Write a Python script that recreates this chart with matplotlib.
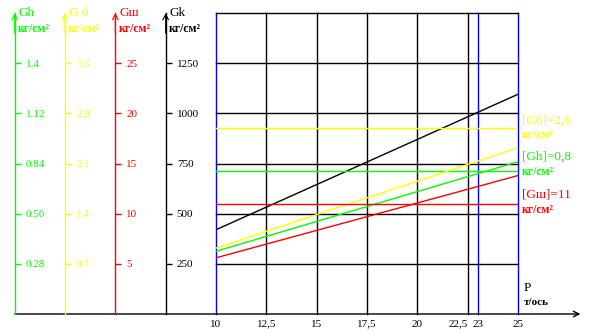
import matplotlib
matplotlib.use("Agg")
import matplotlib.pyplot as plt

plt.rcParams['font.family'] = ['Liberation Serif', 'DejaVu Serif']

# axle load P, t/axle
p_line = [10, 25]
p_ticks = [10, 12.5, 15, 17.5, 20, 22.5, 23, 25]
p_labels = ["10", "12,5", "15", "17,5", "20", "22,5", "23", "25"]
p_blue = [10, 23, 25]

# stresses, kg/cm2 (values at P=10 and P=25)
gk = [420, 1095]
gb = [0.92, 2.32]
gh = [0.35, 0.85]
gsh = [5.6, 13.8]

# allowed values
gb_lim = 2.6
gh_lim = 0.8
gsh_lim = 11

gk_grid = [250, 500, 750, 1000, 1250, 1500]

# left scales: name, colour, factor to Gk scale, ticks, tick labels, position (in P units)
scales = [
    ("Gh", "#00ff00", 1.4 / 1250, [0.28, 0.56, 0.84, 1.12, 1.4],
     ["0.28", "0.56", "0.84", "1.12", "1.4"], 0.0),
    ("G б", "#ffff00", 3.5 / 1250, [0.7, 1.4, 2.1, 2.8, 3.5],
     ["0.7", "1.4", "2.1", "2.8", "3.5"], 2.5),
    ("Gш", "#ff0000", 25 / 1250, [5, 10, 15, 20, 25],
     ["5", "10", "15", "20", "25"], 5.0),
    ("Gk", "black", 1.0, [250, 500, 750, 1000, 1250],
     ["250", "500", "750", "1000", "1250"], 7.5),
]

W, H = 596, 333
fig = plt.figure(figsize=(W / 100, H / 100), dpi=100)
ax = fig.add_axes([216 / W, (H - 314) / H, 302 / W, 301 / H])
ax.set_xlim(10, 25)
ax.set_ylim(0, 1500)
for s in ax.spines.values():
    s.set_visible(False)
ax.set_yticks([])
ax.set_xticks(p_ticks)
ax.set_xticklabels(p_labels)
ax.tick_params(axis='x', length=0, pad=4, labelsize=8)
ax.get_xticklabels()[5].set_horizontalalignment('right')

# grid
for p in p_ticks:
    ax.axvline(p, color='blue' if p in p_blue else 'black', lw=1, clip_on=False)
for g in gk_grid:
    ax.axhline(g, color='black', lw=1, clip_on=False)

# x axis with arrow
ax.annotate('', xy=(28.1, 0), xytext=(0, 0),
            arrowprops=dict(arrowstyle='->', color='black', lw=1, shrinkA=0, shrinkB=0),
            annotation_clip=False)
ax.text(25.3, 130, "P", fontsize=9.5, ha='left', va='center')
ax.text(25.3, 55, "т/ось", fontsize=8, fontweight='bold', ha='left', va='center')

twins = {}
for name, color, k, ticks, labels, pos in scales:
    tw = ax.twinx()
    tw.set_ylim(0, 1500 * k)
    for side in ['left', 'top', 'bottom']:
        tw.spines[side].set_visible(False)
    tw.spines['right'].set_position(('data', pos))
    tw.spines['right'].set_color(color)
    tw.spines['right'].set_linewidth(1)
    tw.set_yticks(ticks)
    tw.set_yticklabels(labels)
    tw.tick_params(axis='y', colors=color, direction='out', length=4, width=1,
                   pad=4, labelsize=8)
    tw.annotate('', xy=(pos, 1500 * k), xytext=(pos, 1400 * k),
                arrowprops=dict(arrowstyle='->', color=color, lw=0.8,
                                shrinkA=0, shrinkB=0),
                annotation_clip=False)
    tw.text(pos + 0.2, 1500 * k, name, color=color, fontsize=9.5,
            ha='left', va='center')
    tw.text(pos + 0.15, 1420 * k, "кг/см²", color=color, fontsize=8.5,
            fontweight='bold', ha='left', va='center')
    twins[name] = tw

# stress lines
ax.plot(p_line, gk, color='black', lw=1)
twins["G б"].plot(p_line, gb, color='#ffff00', lw=1)
twins["Gh"].plot(p_line, gh, color='#00ff00', lw=1)
twins["Gш"].plot(p_line, gsh, color='#ff0000', lw=1)

# allowed values
twins["G б"].axhline(gb_lim, color='#ffff00', lw=1)
twins["Gh"].axhline(gh_lim, color='#00ff00', lw=1)
twins["Gш"].axhline(gsh_lim, color='#ff0000', lw=1)

ax.text(25.2, 965, "[Gб]=2,6", color='#ffff00', fontsize=9.5, ha='left', va='center')
ax.text(25.2, 890, "кг/см²", color='#ffff00', fontsize=8.5, fontweight='bold',
        ha='left', va='center')
ax.text(25.2, 785, "[Gh]=0,8", color='#00ff00', fontsize=9.5, ha='left', va='center')
ax.text(25.2, 710, "кг/см²", color='#00ff00', fontsize=8.5, fontweight='bold',
        ha='left', va='center')
ax.text(25.2, 595, "[Gш]=11", color='#ff0000', fontsize=9.5, ha='left', va='center')
ax.text(25.2, 520, "кг/см²", color='#ff0000', fontsize=8.5, fontweight='bold',
        ha='left', va='center')

fig.savefig("out.png", dpi=100)
